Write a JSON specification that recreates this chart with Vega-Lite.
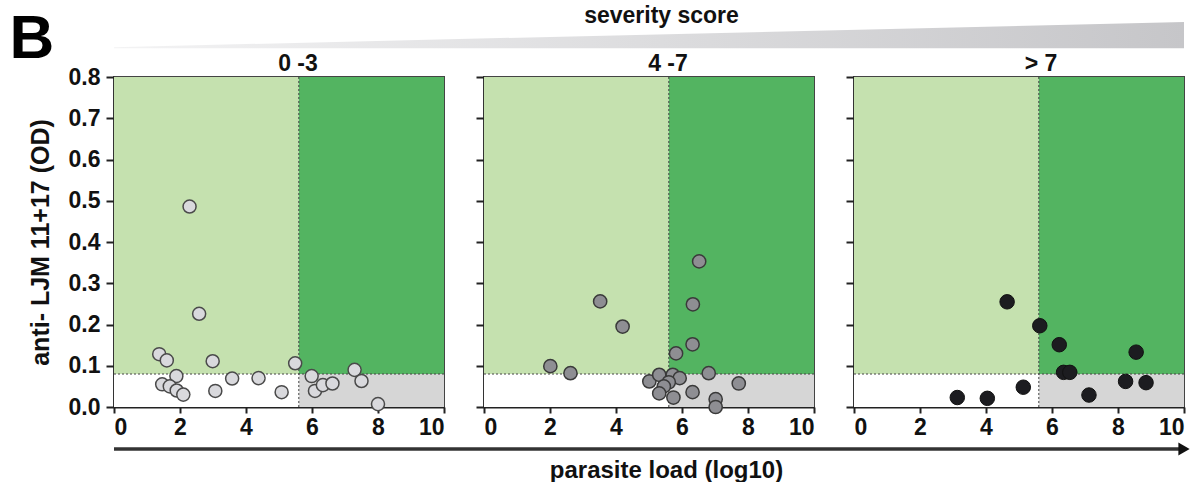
{
  "$schema": "https://vega.github.io/schema/vega-lite/v6.json",
  "padding": {"left": 8, "top": 4, "right": 0, "bottom": 0},
  "background": "white",
  "config": {
    "font": "Liberation Sans",
    "view": {"stroke": null},
    "axis": {"labelFont": "Liberation Sans", "labelFontWeight": "bold", "labelFontSize": 23, "labelColor": "#111", "titleFont": "Liberation Sans", "titleFontWeight": "bold", "titleFontSize": 25, "titleColor": "#111", "domainColor": "#222", "domainWidth": 2, "tickColor": "#222", "tickWidth": 2, "tickSize": 7, "grid": false},
    "title": {"font": "Liberation Sans", "fontWeight": "bold", "color": "#111"}
  },
  "datasets": {
    "wedge": [{"s": 0, "lo": 0, "hi": 0.04}, {"s": 1, "lo": 0, "hi": 0.93}],
    "arrow": [{"start": 0, "end": 1, "level": 0}],
    "zones": [
      {"zone": "low load, positive", "x0": 0, "x1": 5.6, "y0": 0.08, "y1": 0.8},
      {"zone": "high load, positive", "x0": 5.6, "x1": 10, "y0": 0.08, "y1": 0.8},
      {"zone": "low load, negative", "x0": 0, "x1": 5.6, "y0": 0, "y1": 0.08},
      {"zone": "high load, negative", "x0": 5.6, "x1": 10, "y0": 0, "y1": 0.08}
    ],
    "thr": [{"xt": 5.6, "yt": 0.08}],
    "pts": [
      {"group": "0 -3", "load": 2.29, "od": 0.486},
      {"group": "0 -3", "load": 2.58, "od": 0.226},
      {"group": "0 -3", "load": 1.37, "od": 0.128},
      {"group": "0 -3", "load": 1.6, "od": 0.113},
      {"group": "0 -3", "load": 2.99, "od": 0.111},
      {"group": "0 -3", "load": 5.49, "od": 0.106},
      {"group": "0 -3", "load": 1.89, "od": 0.075},
      {"group": "0 -3", "load": 1.46, "od": 0.055},
      {"group": "0 -3", "load": 1.69, "od": 0.05},
      {"group": "0 -3", "load": 1.9, "od": 0.04},
      {"group": "0 -3", "load": 2.1, "od": 0.03},
      {"group": "0 -3", "load": 3.07, "od": 0.039},
      {"group": "0 -3", "load": 3.58, "od": 0.069},
      {"group": "0 -3", "load": 4.38, "od": 0.07},
      {"group": "0 -3", "load": 5.08, "od": 0.036},
      {"group": "0 -3", "load": 5.99, "od": 0.075},
      {"group": "0 -3", "load": 6.09, "od": 0.039},
      {"group": "0 -3", "load": 6.33, "od": 0.053},
      {"group": "0 -3", "load": 6.62, "od": 0.057},
      {"group": "0 -3", "load": 7.29, "od": 0.09},
      {"group": "0 -3", "load": 7.5, "od": 0.063},
      {"group": "0 -3", "load": 8.0, "od": 0.007},
      {"group": "4 -7", "load": 6.52, "od": 0.353},
      {"group": "4 -7", "load": 3.52, "od": 0.256},
      {"group": "4 -7", "load": 6.33, "od": 0.249},
      {"group": "4 -7", "load": 4.2, "od": 0.195},
      {"group": "4 -7", "load": 6.32, "od": 0.152},
      {"group": "4 -7", "load": 5.82, "od": 0.13},
      {"group": "4 -7", "load": 2.01, "od": 0.099},
      {"group": "4 -7", "load": 2.62, "od": 0.082},
      {"group": "4 -7", "load": 6.81, "od": 0.082},
      {"group": "4 -7", "load": 7.72, "od": 0.057},
      {"group": "4 -7", "load": 5.01, "od": 0.062},
      {"group": "4 -7", "load": 5.31, "od": 0.078},
      {"group": "4 -7", "load": 5.72, "od": 0.078},
      {"group": "4 -7", "load": 5.93, "od": 0.07},
      {"group": "4 -7", "load": 5.6, "od": 0.06},
      {"group": "4 -7", "load": 5.45, "od": 0.05},
      {"group": "4 -7", "load": 5.31, "od": 0.033},
      {"group": "4 -7", "load": 5.74, "od": 0.023},
      {"group": "4 -7", "load": 6.32, "od": 0.036},
      {"group": "4 -7", "load": 7.02, "od": 0.019},
      {"group": "4 -7", "load": 7.02, "od": 0.0},
      {"group": "> 7", "load": 4.64, "od": 0.255},
      {"group": "> 7", "load": 5.63, "od": 0.197},
      {"group": "> 7", "load": 6.22, "od": 0.151},
      {"group": "> 7", "load": 8.55, "od": 0.133},
      {"group": "> 7", "load": 6.35, "od": 0.084},
      {"group": "> 7", "load": 6.54, "od": 0.084},
      {"group": "> 7", "load": 8.23, "od": 0.062},
      {"group": "> 7", "load": 8.85, "od": 0.059},
      {"group": "> 7", "load": 5.13, "od": 0.048},
      {"group": "> 7", "load": 7.12, "od": 0.029},
      {"group": "> 7", "load": 3.13, "od": 0.023},
      {"group": "> 7", "load": 4.04, "od": 0.021}
    ]
  },
  "spacing": -19,
  "vconcat": [
    {
      "width": 1070,
      "height": 34,
      "data": {"name": "wedge"},
      "mark": {"type": "area", "color": {"gradient": "linear", "x1": 0, "x2": 1, "y1": 0, "y2": 0, "stops": [{"offset": 0, "color": "#f3f3f4"}, {"offset": 1, "color": "#c6c6c9"}]}},
      "encoding": {
        "x": {"field": "s", "type": "quantitative", "scale": {"domain": [0, 1], "nice": false}, "axis": {"orient": "top", "title": "severity score", "domain": false, "ticks": false, "labels": false, "titleFontSize": 23, "titleX": 547, "titleY": 2.4, "titleAlign": "center", "titleBaseline": "alphabetic"}},
        "y": {"field": "hi", "type": "quantitative", "scale": {"domain": [-0.2, 1], "nice": false, "zero": false}, "axis": {"title": "B", "domain": false, "ticks": false, "labels": false, "titleAngle": 0, "titleFontSize": 62, "titleColor": "black", "titleX": -105, "titleY": 37.5, "titleAlign": "left", "titleBaseline": "alphabetic"}},
        "y2": {"field": "lo"}
      }
    },
    {
      "bounds": "flush",
      "spacing": 40,
      "hconcat": [
        {
          "width": 330, "height": 330,
          "title": {"text": "0 -3", "fontSize": 23, "dx": 19, "offset": -10},
          "view": {"stroke": "#444", "strokeWidth": 2},
          "layer": [
            {"data": {"name": "zones"}, "mark": {"type": "rect"},
             "encoding": {
               "x": {"field": "x0", "type": "quantitative", "scale": {"domain": [0, 10], "nice": false}, "axis": {"values": [0, 2, 4, 6, 8, 10], "title": " ", "titleX": -105, "titleY": 0, "titleAlign": "left", "titleBaseline": "top", "tickSize": 6, "labelPadding": 3}},
               "x2": {"field": "x1"},
               "y": {"field": "y0", "type": "quantitative", "scale": {"domain": [0, 0.8], "nice": false}, "axis": {"values": [0, 0.1, 0.2, 0.3, 0.4, 0.5, 0.6, 0.7, 0.8], "format": ".1f", "title": "anti- LJM 11+17 (OD)", "tickSize": 8, "labelPadding": 6, "minExtent": 46, "maxExtent": 46, "titlePadding": 15}},
               "y2": {"field": "y1"},
               "color": {"field": "zone", "type": "nominal", "scale": {"domain": ["low load, positive", "high load, positive", "low load, negative", "high load, negative"], "range": ["#c5e1af", "#53b461", "#ffffff", "#d6d6d6"]}, "legend": null}
             }},
            {"data": {"name": "thr"}, "mark": {"type": "rule", "strokeDash": [2, 2], "strokeWidth": 1, "color": "#444"}, "encoding": {"x": {"field": "xt", "type": "quantitative"}}},
            {"data": {"name": "thr"}, "mark": {"type": "rule", "strokeDash": [2, 2], "strokeWidth": 1, "color": "#444"}, "encoding": {"y": {"field": "yt", "type": "quantitative"}}},
            {"data": {"name": "pts"}, "transform": [{"filter": "datum.group === '0 -3'"}],
             "mark": {"type": "point", "filled": true, "size": 170, "fill": "#d9d9dd", "stroke": "#4a4a4a", "strokeWidth": 1.5, "opacity": 1},
             "encoding": {"x": {"field": "load", "type": "quantitative"}, "y": {"field": "od", "type": "quantitative"}}}
          ]
        },
        {
          "width": 330, "height": 330,
          "title": {"text": "4 -7", "fontSize": 23, "dx": 19, "offset": 0.5},
          "view": {"stroke": "#444", "strokeWidth": 2},
          "layer": [
            {"data": {"name": "zones"}, "mark": {"type": "rect"},
             "encoding": {
               "x": {"field": "x0", "type": "quantitative", "scale": {"domain": [0, 10], "nice": false}, "axis": {"values": [0, 2, 4, 6, 8, 10], "title": null, "tickSize": 6, "labelPadding": 3}},
               "x2": {"field": "x1"},
               "y": {"field": "y0", "type": "quantitative", "scale": {"domain": [0, 0.8], "nice": false}, "axis": {"values": [0, 0.1, 0.2, 0.3, 0.4, 0.5, 0.6, 0.7, 0.8], "labels": false, "title": null, "tickSize": 8}},
               "y2": {"field": "y1"},
               "color": {"field": "zone", "type": "nominal", "scale": {"domain": ["low load, positive", "high load, positive", "low load, negative", "high load, negative"], "range": ["#c5e1af", "#53b461", "#ffffff", "#d6d6d6"]}, "legend": null}
             }},
            {"data": {"name": "thr"}, "mark": {"type": "rule", "strokeDash": [2, 2], "strokeWidth": 1, "color": "#444"}, "encoding": {"x": {"field": "xt", "type": "quantitative"}}},
            {"data": {"name": "thr"}, "mark": {"type": "rule", "strokeDash": [2, 2], "strokeWidth": 1, "color": "#444"}, "encoding": {"y": {"field": "yt", "type": "quantitative"}}},
            {"data": {"name": "pts"}, "transform": [{"filter": "datum.group === '4 -7'"}],
             "mark": {"type": "point", "filled": true, "size": 175, "fill": "#8e8e93", "stroke": "#3a3a3a", "strokeWidth": 1.5, "opacity": 1},
             "encoding": {"x": {"field": "load", "type": "quantitative"}, "y": {"field": "od", "type": "quantitative"}}}
          ]
        },
        {
          "width": 330, "height": 330,
          "title": {"text": "> 7", "fontSize": 23, "dx": 22, "offset": 0.5},
          "view": {"stroke": "#444", "strokeWidth": 2},
          "layer": [
            {"data": {"name": "zones"}, "mark": {"type": "rect"},
             "encoding": {
               "x": {"field": "x0", "type": "quantitative", "scale": {"domain": [0, 10], "nice": false}, "axis": {"values": [0, 2, 4, 6, 8, 10], "title": null, "tickSize": 6, "labelPadding": 3}},
               "x2": {"field": "x1"},
               "y": {"field": "y0", "type": "quantitative", "scale": {"domain": [0, 0.8], "nice": false}, "axis": {"values": [0, 0.1, 0.2, 0.3, 0.4, 0.5, 0.6, 0.7, 0.8], "labels": false, "title": null, "tickSize": 8}},
               "y2": {"field": "y1"},
               "color": {"field": "zone", "type": "nominal", "scale": {"domain": ["low load, positive", "high load, positive", "low load, negative", "high load, negative"], "range": ["#c5e1af", "#53b461", "#ffffff", "#d6d6d6"]}, "legend": null}
             }},
            {"data": {"name": "thr"}, "mark": {"type": "rule", "strokeDash": [2, 2], "strokeWidth": 1, "color": "#444"}, "encoding": {"x": {"field": "xt", "type": "quantitative"}}},
            {"data": {"name": "thr"}, "mark": {"type": "rule", "strokeDash": [2, 2], "strokeWidth": 1, "color": "#444"}, "encoding": {"y": {"field": "yt", "type": "quantitative"}}},
            {"data": {"name": "pts"}, "transform": [{"filter": "datum.group === '> 7'"}],
             "mark": {"type": "point", "filled": true, "size": 210, "fill": "#1c1c20", "stroke": "#111", "strokeWidth": 1, "opacity": 1},
             "encoding": {"x": {"field": "load", "type": "quantitative"}, "y": {"field": "od", "type": "quantitative"}}}
          ]
        }
      ]
    },
    {
      "width": 1070,
      "height": 9,
      "data": {"name": "arrow"},
      "layer": [
        {"mark": {"type": "rule", "strokeWidth": 3.5, "color": "#333"},
         "encoding": {
           "x": {"field": "start", "type": "quantitative", "scale": {"domain": [0, 1], "nice": false}, "axis": {"title": "parasite load (log10)", "domain": false, "ticks": false, "labels": false, "titlePadding": 9, "titleFontSize": 24, "titleX": 552}},
           "x2": {"field": "end"},
           "y": {"field": "level", "type": "quantitative", "scale": {"domain": [0, 1], "nice": false}, "axis": {"title": " ", "domain": false, "ticks": false, "labels": false, "titleAngle": 0, "titleFontSize": 6, "titleX": -105, "titleY": 0, "titleAlign": "left", "titleBaseline": "top"}}
         }},
        {"mark": {"type": "point", "shape": "triangle-right", "filled": true, "size": 170, "color": "#111", "opacity": 1},
         "encoding": {
           "x": {"field": "end", "type": "quantitative"},
           "y": {"field": "level", "type": "quantitative"}
         }}
      ]
    }
  ]
}
